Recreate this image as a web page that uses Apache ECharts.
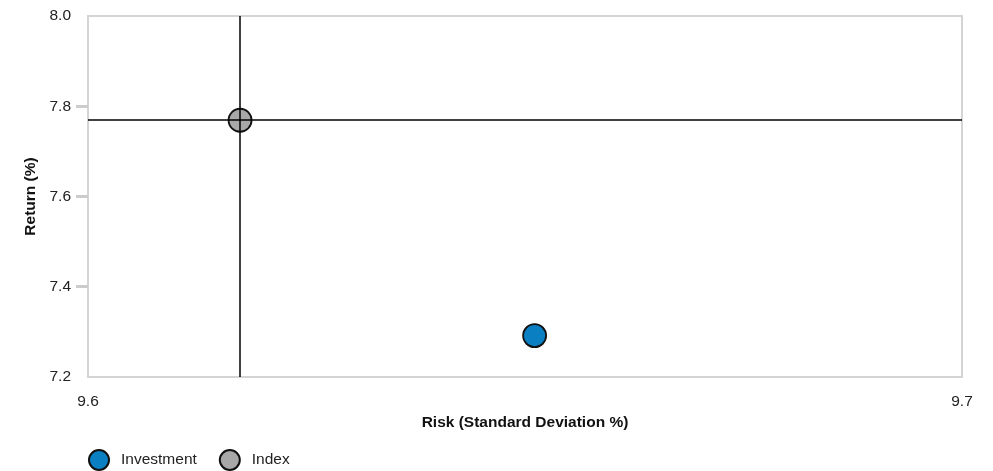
<!DOCTYPE html>
<html><head><meta charset="utf-8">
<script src="https://cdn.jsdelivr.net/npm/echarts@6/dist/echarts.min.js"></script>
<style>html,body{margin:0;padding:0;background:#fff}#c{width:993px;height:471px}</style>
</head><body><div id="c"></div>
<script>
const seriesNames = ['Investment', 'Index'];
const investmentPoint = [9.6511, 7.2917];
const indexPoint = [9.6174, 7.769];
const xTicks = [9.6, 9.7];
const yTicks = [7.2, 7.4, 7.6, 7.8, 8.0];
const yTickMarks = [7.4, 7.6, 7.8];

const chart = echarts.init(document.getElementById('c'));
const font = 'Arial, "Liberation Sans", sans-serif';
chart.setOption({
  animation: false,
  textStyle: { fontFamily: font },
  grid: { left: 88, right: 31, top: 16, bottom: 94, show: true, borderColor: '#d4d4d4', borderWidth: 2, backgroundColor: '#fff' },
  xAxis: {
    type: 'value', min: xTicks[0], max: xTicks[xTicks.length - 1], interval: 0.1,
    name: 'Risk (Standard Deviation %)', nameLocation: 'middle', nameGap: 34,
    nameTextStyle: { fontWeight: 'bold', fontSize: 15.5, color: '#111', fontFamily: font },
    axisLine: { show: false }, axisTick: { show: false }, splitLine: { show: false },
    axisLabel: { margin: 17, fontSize: 15.5, color: '#222', fontFamily: font, formatter: v => v.toFixed(1) }
  },
  yAxis: {
    type: 'value', min: yTicks[0], max: yTicks[yTicks.length - 1], interval: 0.2,
    name: 'Return (%)', nameLocation: 'middle', nameGap: 49, nameRotate: 90,
    nameTextStyle: { fontWeight: 'bold', fontSize: 15.5, color: '#111', fontFamily: font },
    axisLine: { show: false }, splitLine: { show: false },
    axisTick: { show: true, inside: false, length: 12, customValues: yTickMarks, lineStyle: { color: '#cccccc', width: 3 } },
    axisLabel: { margin: 17, fontSize: 15.5, color: '#222', fontFamily: font, formatter: v => v.toFixed(1) }
  },
  legend: {
    left: 88, top: 449, padding: 0, itemWidth: 20, itemHeight: 20, itemGap: 22, icon: 'circle',
    textStyle: { fontSize: 15.5, color: '#222', fontFamily: font, padding: [0, 0, 0, 7] },
    data: seriesNames
  },
  series: [
    {
      name: seriesNames[0], type: 'scatter', symbolSize: 23, z: 5,
      itemStyle: { color: '#0a7fc1', borderColor: '#111', borderWidth: 1.8, opacity: 1 },
      data: [investmentPoint]
    },
    {
      name: seriesNames[1], type: 'scatter', symbolSize: 23, z: 5,
      itemStyle: { color: '#a8a8a8', borderColor: '#111', borderWidth: 1.8, opacity: 1 },
      data: [indexPoint],
      markLine: {
        silent: true, symbol: 'none', label: { show: false }, z: 6, precision: 5,
        lineStyle: { color: '#000', width: 1.5, type: 'solid' },
        data: [{ xAxis: indexPoint[0] }, { yAxis: indexPoint[1] }]
      }
    }
  ]
});
</script></body></html>
